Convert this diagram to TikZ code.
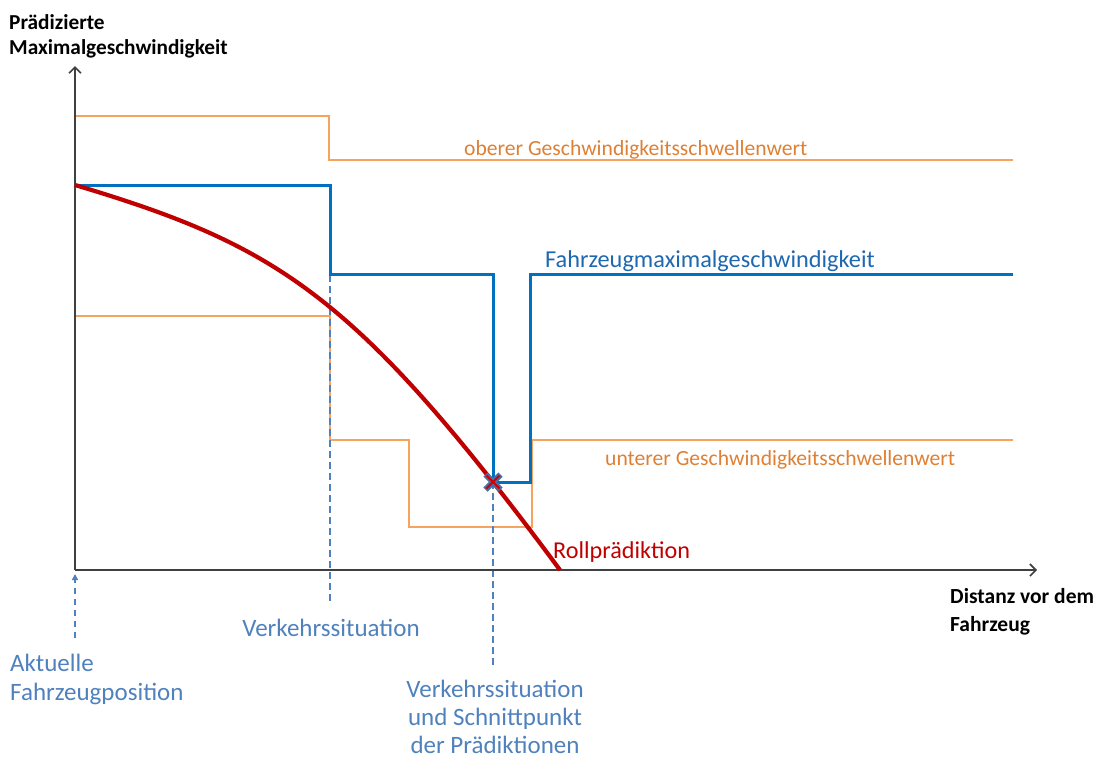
\documentclass[tikz,border=0pt]{standalone}
\usepackage{fontspec}
\setmainfont{Carlito}
\usetikzlibrary{arrows.meta,calc}
\definecolor{axisgray}{RGB}{64,64,64}
\definecolor{thrline}{RGB}{247,163,96}
\definecolor{thrtext}{RGB}{222,128,52}
\definecolor{vblue}{RGB}{0,112,192}
\definecolor{vbluetext}{RGB}{31,104,176}
\definecolor{steel}{RGB}{79,129,189}
\definecolor{rollred}{RGB}{192,0,0}
\definecolor{crossblue}{RGB}{74,110,160}
\begin{document}
\begin{tikzpicture}[x=1pt,y=-1pt,
  axis/.style={draw=axisgray,line width=1.6pt,-{Straight Barb[length=6pt,width=12pt]}},
  thr/.style={draw=thrline,line width=1.7pt},
  vmax/.style={draw=vblue,line width=3pt},
  guide/.style={draw=steel,line width=1.4pt,dash pattern=on 6.5pt off 4.5pt},
  roll/.style={draw=rollred,line width=4.2pt},
  lbl/.style={inner sep=0pt,font=\fontsize{25}{28.5}\selectfont,text=steel},
  axlbl/.style={inner sep=0pt,font=\bfseries\fontsize{21.3}{25}\selectfont,text=black,align=left},
  thrlbl/.style={inner sep=0pt,font=\fontsize{21.6}{25}\selectfont,text=thrtext},
]
\useasboundingbox (0,0) rectangle (1098,758);

% key coordinates
\coordinate (O) at (75,570);
\coordinate (Ytop) at (75,66);
\coordinate (Xend) at (1037,570);
\coordinate (start) at (75,185);
\coordinate (rollend) at (560,570);
\coordinate (X) at (493,482);

% upper threshold
\draw[thr] (75,116) -- (329,116) -- (329,160) -- (1013,160);
% lower threshold
\draw[thr] (75,316) -- (330,316) -- (330,440) -- (409,440) -- (409,527)
  -- (532,527) -- (532,440) -- (1013,440);

% guides
\coordinate (g1a) at (75,638);
\coordinate (g1b) at (75,574);
\coordinate (g2a) at (330,275);
\coordinate (g2b) at (330,604);
\coordinate (g3b) at (493,666);
\draw[guide,-{Triangle[length=6pt,width=6pt]}] (g1a) -- (g1b);
\draw[guide] (g2a) -- (g2b);
\draw[guide] (X) -- (g3b);

% vehicle max speed
\draw[vmax] (start) -- (330,185) -- (330,274) -- (493,274) -- (X)
  -- (530,482) -- (530,274) -- (1013,274);

% axes
\draw[axis] (O) -- (Ytop);
\draw[axis] (O) -- (Xend);

% roll prediction
\draw[roll] (start) .. controls (279,246) and (356,295) .. (rollend);

% intersection cross
\draw[crossblue,line width=6pt] ($(X)+(-7.5,-7.5)$) -- ($(X)+(7.5,7.5)$) ($(X)+(-7.5,7.5)$) -- ($(X)+(7.5,-7.5)$);
\draw[rollred!70!red,line width=1.8pt] ($(X)+(-6.5,-6.5)$) -- ($(X)+(6.5,6.5)$) ($(X)+(-6.5,6.5)$) -- ($(X)+(6.5,-6.5)$);

% labels
\node[axlbl,anchor=base west] (ylab) at (9,54) {Prädizierte\\Maximalgeschwindigkeit};
\node[axlbl,anchor=base west,font=\bfseries\fontsize{21.5}{28}\selectfont] (xlab) at (950,631) {Distanz vor dem\\Fahrzeug};
\node[thrlbl,anchor=base west] (upper) at (464,155) {oberer Geschwindigkeitsschwellenwert};
\node[thrlbl,anchor=base west] (lower) at (605,465) {unterer Geschwindigkeitsschwellenwert};
\node[inner sep=0pt,anchor=base west,font=\fontsize{24.3}{28}\selectfont,text=vbluetext] (vlab) at (545,267) {Fahrzeugmaximalgeschwindigkeit};
\node[inner sep=0pt,anchor=base west,font=\fontsize{24.2}{28}\selectfont,text=rollred] (rlab) at (553,558) {Rollprädiktion};
\node[lbl,anchor=base] (vs) at (331,636) {Verkehrssituation};
\node[lbl,anchor=base west,align=left] (pos) at (10,700) {Aktuelle\\Fahrzeugposition};
\node[lbl,anchor=base,align=center,font=\fontsize{25}{28}\selectfont] (vs2) at (495,753) {Verkehrssituation\\und Schnittpunkt\\der Prädiktionen};
\end{tikzpicture}
\end{document}
